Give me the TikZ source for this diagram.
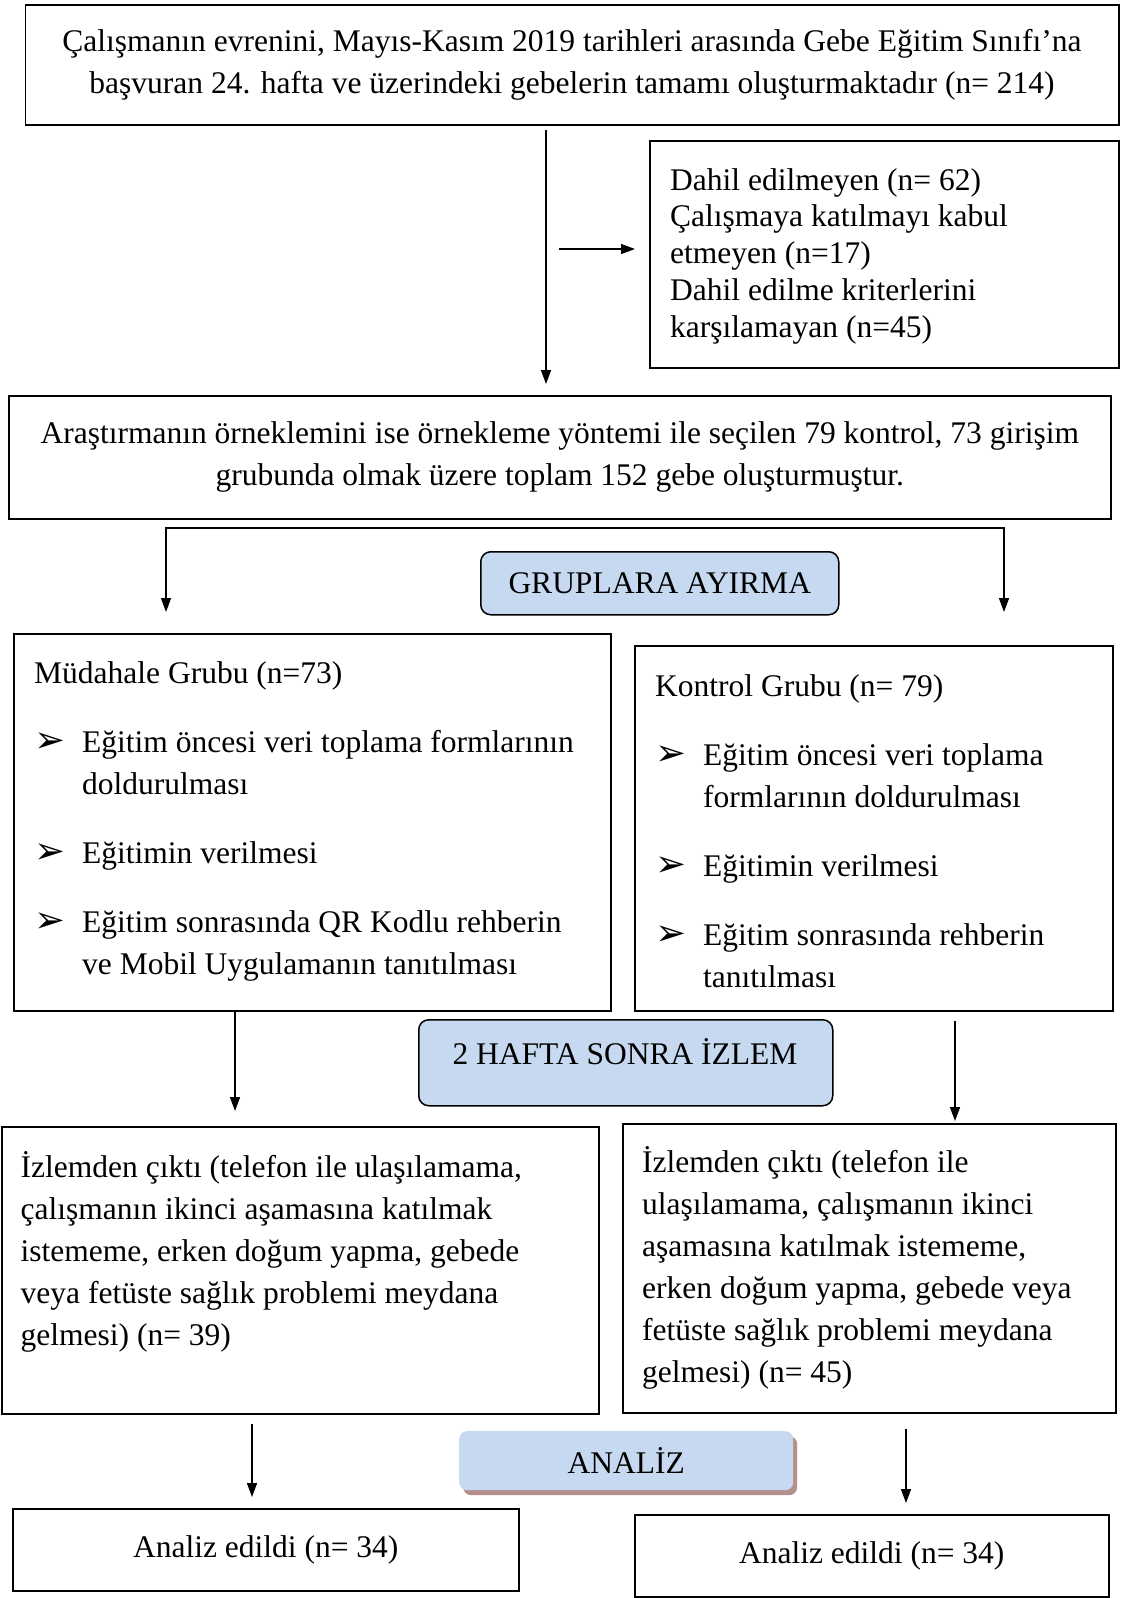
\documentclass[tikz,border=0pt]{standalone}
\usepackage{fontspec}
\setmainfont{Liberation Serif}
\newfontfamily\symfont{DejaVu Sans}
\usetikzlibrary{arrows.meta,shadows}
\definecolor{boxblue}{HTML}{C6D9F0}
\definecolor{shadowbrown}{HTML}{B48F8C}
\newcommand\blt{\makebox[48pt][l]{\raisebox{0pt}{\symfont\fontsize{37}{37}\selectfont ➢}}}
\newcommand\ind{\hspace*{48pt}}
\newcommand\fl{\rule{0pt}{28pt}}
\begin{document}
\begin{tikzpicture}[x=1pt,y=-1pt,
  every node/.style={font=\fontsize{31.5}{42}\selectfont, inner sep=0pt},
  box/.style={draw, line width=1.5pt, anchor=north west, align=center},
  rbox/.style={draw, line width=1.5pt, rounded corners=10pt, fill=boxblue, anchor=north west},
  txt/.style={anchor=north west, align=left},
  arr/.style={line width=1.5pt, -{Triangle[length=14pt,width=10pt]}}]
\useasboundingbox (0,0) rectangle (1122,1598);

% top box
\node[box, minimum width=1093.5pt, minimum height=120pt] (b1) at (24.5,4)
 {Çalışmanın evrenini, Mayıs-Kasım 2019 tarihleri arasında Gebe Eğitim Sınıfı’na\\
  başvuran 24. hafta ve üzerindeki gebelerin tamamı oluşturmaktadır (n= 214)};

% exclusion box
\node[box, minimum width=469pt, minimum height=227pt] (ex) at (649,140) {};
\node[txt, font=\fontsize{31.5}{36.7}\selectfont] (ext) at (670,190-28)
 {\fl Dahil edilmeyen (n= 62)\\
  Çalışmaya katılmayı kabul\\
  etmeyen (n=17)\\
  Dahil edilme kriterlerini\\
  karşılamayan (n=45)};

\coordinate (m1) at (546,130);
\coordinate (m2) at (546,384);
\draw[arr] (m1) -- (m2);
\coordinate (s1) at (559,249);
\coordinate (s2) at (635,249);
\draw[arr] (s1) -- (s2);

% sample box
\node[box, minimum width=1102pt, minimum height=123pt] (b2) at (8,395)
 {Araştırmanın örneklemini ise örnekleme yöntemi ile seçilen 79 kontrol, 73 girişim\\
  grubunda olmak üzere toplam 152 gebe oluşturmuştur.};

% split
\coordinate (sl1) at (166,528);
\coordinate (sl2) at (166,612);
\coordinate (sr1) at (1004,528);
\coordinate (sr2) at (1004,612);
\draw[line width=1.5pt, {Triangle[length=14pt,width=10pt]}-{Triangle[length=14pt,width=10pt]}] (sl2) -- (sl1) -- (sr1) -- (sr2);

\node[rbox, minimum width=358pt, minimum height=63pt] (g) at (480,551) {};
\node (gt) at (g.center) {GRUPLARA AYIRMA};

% intervention group
\node[box, minimum width=597pt, minimum height=377pt] (mg) at (13,633) {};
\node[txt] (mgt) at (34,683-28)
 {\fl Müdahale Grubu (n=73)\\[27pt]
  \blt Eğitim öncesi veri toplama formlarının\\
  \ind doldurulması\\[27pt]
  \blt Eğitimin verilmesi\\[27pt]
  \blt Eğitim sonrasında QR Kodlu rehberin\\
  \ind ve Mobil Uygulamanın tanıtılması};

% control group
\node[box, minimum width=478pt, minimum height=365pt] (kg) at (634,645) {};
\node[txt] (kgt) at (655,696-28)
 {\fl Kontrol Grubu (n= 79)\\[27pt]
  \blt Eğitim öncesi veri toplama\\
  \ind formlarının doldurulması\\[27pt]
  \blt Eğitimin verilmesi\\[27pt]
  \blt Eğitim sonrasında rehberin\\
  \ind tanıtılması};

\coordinate (la1) at (235,1010);
\coordinate (la2) at (235,1111);
\draw[arr] (la1) -- (la2);
\coordinate (ra1) at (955,1021);
\coordinate (ra2) at (955,1121);
\draw[arr] (ra1) -- (ra2);

\node[rbox, minimum width=414pt, minimum height=86pt] (h) at (418,1019) {};
\node (ht) at (625,1052) {2 HAFTA SONRA İZLEM};

% lost to follow-up
\node[box, minimum width=597pt, minimum height=287pt] (il) at (1,1126) {};
\node[txt] (ilt) at (20.5,1177-28)
 {\fl İzlemden çıktı (telefon ile ulaşılamama,\\
  çalışmanın ikinci aşamasına katılmak\\
  istememe, erken doğum yapma, gebede\\
  veya fetüste sağlık problemi meydana\\
  gelmesi) (n= 39)};
\node[box, minimum width=493pt, minimum height=289pt] (ir) at (622,1123) {};
\node[txt] (irt) at (642,1172-28)
 {\fl İzlemden çıktı (telefon ile\\
  ulaşılamama, çalışmanın ikinci\\
  aşamasına katılmak istememe,\\
  erken doğum yapma, gebede veya\\
  fetüste sağlık problemi meydana\\
  gelmesi) (n= 45)};

\coordinate (lb1) at (252,1424);
\coordinate (lb2) at (252,1497);
\draw[arr] (lb1) -- (lb2);
\coordinate (rb1) at (906,1429);
\coordinate (rb2) at (906,1503);
\draw[arr] (rb1) -- (rb2);

\node[fill=boxblue, rounded corners=8pt, anchor=north west, minimum width=334pt, minimum height=59pt,
  drop shadow={shadow xshift=4pt, shadow yshift=-5pt, fill=shadowbrown, opacity=1}] (an) at (459,1431) {};
\node (ant) at (an.center) {ANALİZ};

% analysed
\node[box, minimum width=506pt, minimum height=82pt] (al) at (12,1508) {Analiz edildi (n= 34)};
\node[box, minimum width=474pt, minimum height=82pt] (ar) at (634,1514) {Analiz edildi (n= 34)};
\end{tikzpicture}
\end{document}
